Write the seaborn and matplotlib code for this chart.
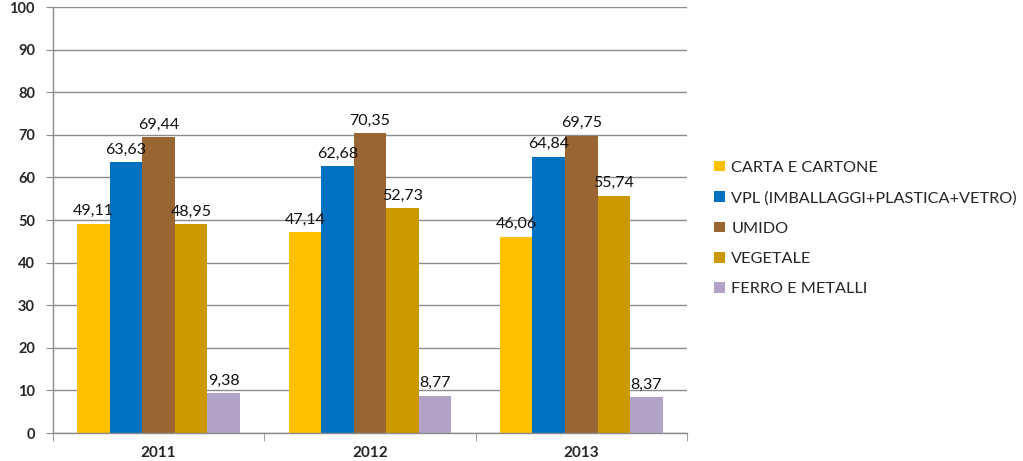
import matplotlib
matplotlib.use("Agg")
import matplotlib.pyplot as plt
import pandas as pd
import seaborn as sns

# Data
years = ["2011", "2012", "2013"]
categories = ["CARTA E CARTONE", "VPL (IMBALLAGGI+PLASTICA+VETRO)", "UMIDO",
              "VEGETALE", "FERRO E METALLI"]
carta = [49.11, 47.14, 46.06]
vpl = [63.63, 62.68, 64.84]
umido = [69.44, 70.35, 69.75]
vegetale = [48.95, 52.73, 55.74]
ferro = [9.38, 8.77, 8.37]
colors = ["#FFC000", "#0070C0", "#996633", "#CC9900", "#B3A2C7"]

series = [carta, vpl, umido, vegetale, ferro]
rows = []
for cat, vals in zip(categories, series):
    for yr, v in zip(years, vals):
        rows.append({"year": yr, "category": cat, "value": v})
df = pd.DataFrame(rows)

sns.set_style("white")
plt.rcParams["font.family"] = ["Lato", "DejaVu Sans"]

fig = plt.figure(figsize=(10.23, 4.61), dpi=100)
ax = fig.add_axes([0.0518, 0.0607, 0.6197, 0.9241])

sns.barplot(data=df, x="year", y="value", hue="category", order=years,
            hue_order=categories, palette=colors, width=0.77, saturation=1,
            ax=ax, edgecolor="none", linewidth=0)

# data labels with comma decimals
for cont in ax.containers:
    labels = [f"{b.get_height():.2f}".replace(".", ",") for b in cont]
    ax.bar_label(cont, labels=labels, padding=4, fontsize=11.5, color="#111111")

ax.set_ylim(0, 100)
ax.set_xlim(-0.5, 2.5)
ax.set_yticks(range(0, 101, 10))
ax.yaxis.grid(True, color="#8c8c8c", linewidth=1)
ax.set_axisbelow(True)
ax.set_xlabel("")
ax.set_ylabel("")

for s in ["top", "right"]:
    ax.spines[s].set_visible(False)
for s in ["left", "bottom"]:
    ax.spines[s].set_color("#8c8c8c")
    ax.spines[s].set_linewidth(1)

ax.tick_params(axis="y", which="both", left=True, length=5, color="#8c8c8c",
               labelsize=10.5, pad=8)
ax.tick_params(axis="x", which="major", length=0, labelsize=11, pad=9)
ax.set_xticks([-0.5, 0.5, 1.5, 2.5], minor=True)
ax.tick_params(axis="x", which="minor", bottom=True, length=6, color="#8c8c8c")
for lbl in ax.get_xticklabels() + ax.get_yticklabels():
    lbl.set_fontweight("bold")

handles, labels = ax.get_legend_handles_labels()
ax.legend(handles, labels, loc="center left", bbox_to_anchor=(1.02, 0.48),
          frameon=False, fontsize=11.7, handlelength=0.65, handleheight=0.65,
          handletextpad=0.4, labelspacing=1.0)

fig.savefig("out.png", dpi=100)
